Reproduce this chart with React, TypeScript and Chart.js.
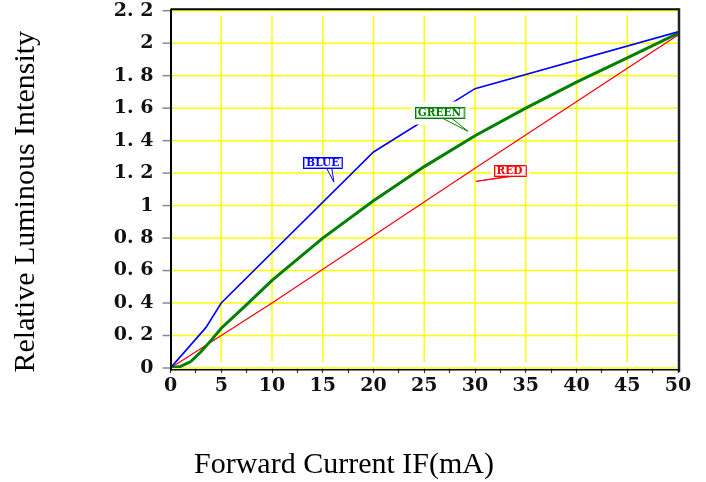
import React, { useEffect, useRef } from 'react';
import { Chart, registerables } from 'chart.js';

Chart.register(...registerables);

// ---- data ----
const blueX = [0, 3.5, 5, 20, 30, 50];
const blueY = [0, 0.25, 0.4, 1.33, 1.72, 2.07];

const greenX = [0, 1, 2, 3, 4, 5, 7.5, 10, 15, 20, 25, 30, 35, 40, 45, 50];
const greenY = [0, 0.01, 0.04, 0.1, 0.17, 0.245, 0.39, 0.54, 0.8, 1.03, 1.24, 1.43, 1.6, 1.76, 1.91, 2.06];

const redX = [0, 5, 10, 30, 50];
const redY = [0, 0.2, 0.4, 1.23, 2.05];

const xTickValues = [0, 2.5, 5, 7.5, 10, 12.5, 15, 17.5, 20, 22.5, 25, 27.5, 30, 32.5, 35, 37.5, 40, 42.5, 45, 47.5, 50];
const xLabelValues = [0, 5, 10, 15, 20, 25, 30, 35, 40, 45, 50];
const xGridValues = [5, 10, 15, 20, 25, 30, 35, 40, 45];
const yTickValues = [0, 0.2, 0.4, 0.6, 0.8, 1, 1.2, 1.4, 1.6, 1.8, 2, 2.2];
const yTickLabels = ['0', '0. 2', '0. 4', '0. 6', '0. 8', '1', '1. 2', '1. 4', '1. 6', '1. 8', '2', '2. 2'];

const xTitle = 'Forward Current IF(mA)';
const yTitle = 'Relative Luminous Intensity';

const seriesNames = ['BLUE', 'GREEN', 'RED'];
const seriesColors = ['#0000ff', '#008000', '#ff0000'];

// callout annotations (data coordinates of box centre and pointer tip)
const calloutBoxX = [15.0, 26.5, 33.4];
const calloutBoxY = [1.266, 1.575, 1.217];
const calloutTipX = [16.1, 29.3, 30.1];
const calloutTipY = [1.145, 1.458, 1.149];

const calloutStyle = [
  { tail: [4, 9], pad: [3, 2], light: 'rgba(120,120,255,0.8)' },
  { tail: [3.5, 12.5], pad: [4.5, 6], light: 'rgba(110,190,110,0.8)' },
  { tail: [-3, 2], pad: [3, 2], light: 'rgba(255,140,140,0.8)' },
];

const gridPlugin = {
  id: 'customGrid',
  beforeDatasetsDraw(chart: any) {
    const { ctx, chartArea, scales } = chart;
    const xs = scales.x;
    const ys = scales.y;
    ctx.save();
    ctx.strokeStyle = '#ffff00';
    ctx.lineWidth = 1.5;
    for (const v of yTickValues) {
      const y = ys.getPixelForValue(v);
      ctx.beginPath();
      ctx.moveTo(chartArea.left + 1, y);
      ctx.lineTo(chartArea.right - 1, y);
      ctx.stroke();
    }
    for (const v of xGridValues) {
      const x = xs.getPixelForValue(v);
      ctx.beginPath();
      ctx.moveTo(x, chartArea.top + 4.5);
      ctx.lineTo(x, chartArea.bottom - 6);
      ctx.stroke();
    }
    // y tick marks (drawn here so the label gap does not pad the chart top)
    ctx.strokeStyle = '#888888';
    ctx.lineWidth = 1.5;
    for (const v of yTickValues) {
      const y = ys.getPixelForValue(v);
      ctx.beginPath();
      ctx.moveTo(chartArea.left - 8, y);
      ctx.lineTo(chartArea.left, y);
      ctx.stroke();
    }
    ctx.restore();
  },
  afterDatasetsDraw(chart: any) {
    const { ctx, scales } = chart;
    const xs = scales.x;
    const ys = scales.y;
    ctx.save();
    seriesNames.forEach((name, i) => {
      const color = seriesColors[i];
      const st = calloutStyle[i];
      const cx = xs.getPixelForValue(calloutBoxX[i]);
      const cy = ys.getPixelForValue(calloutBoxY[i]);
      const tx = xs.getPixelForValue(calloutTipX[i]);
      const ty = ys.getPixelForValue(calloutTipY[i]);
      ctx.font = 'bold 10.5px "DejaVu Serif"';
      const w = ctx.measureText(name).width + 6;
      const h = 11;
      const left = Math.round(cx - w / 2) + 0.5;
      const top = Math.round(cy - h / 2) + 0.5;
      // white clearing background
      ctx.fillStyle = '#ffffff';
      ctx.fillRect(left - st.pad[0], top - st.pad[1], w + 2 * st.pad[0], h + 2 * st.pad[1]);
      // tail
      ctx.beginPath();
      ctx.moveTo(cx + st.tail[0], top + h);
      ctx.lineTo(tx, ty);
      ctx.lineTo(cx + st.tail[1], top + h);
      ctx.closePath();
      ctx.fill();
      ctx.strokeStyle = color;
      ctx.lineWidth = 1;
      ctx.beginPath();
      ctx.moveTo(cx + st.tail[0], top + h);
      ctx.lineTo(tx, ty);
      ctx.lineTo(cx + st.tail[1], top + h);
      ctx.stroke();
      // box
      ctx.fillRect(left, top, w, h);
      ctx.strokeStyle = color;
      ctx.strokeRect(left, top, w, h);
      ctx.strokeStyle = st.light;
      ctx.strokeRect(left + 1, top + 1, w - 2, h - 2);
      // text
      ctx.fillStyle = color;
      ctx.textAlign = 'center';
      ctx.textBaseline = 'middle';
      ctx.fillText(name, cx, top + h / 2 + 0.5);
    });
    ctx.restore();
  },
  afterDraw(chart: any) {
    const { ctx, chartArea } = chart;
    ctx.save();
    // frame
    ctx.strokeStyle = '#000000';
    ctx.lineWidth = 2;
    ctx.beginPath();
    ctx.moveTo(chartArea.left + 0.5, chartArea.top - 1.5);
    ctx.lineTo(chartArea.right + 1, chartArea.top - 1.5);
    ctx.stroke();
    ctx.beginPath();
    ctx.moveTo(chartArea.left + 0.5, chartArea.top - 2);
    ctx.lineTo(chartArea.left + 0.5, chartArea.bottom + 2.5);
    ctx.stroke();
    ctx.lineWidth = 2.5;
    ctx.strokeStyle = '#222222';
    ctx.beginPath();
    ctx.moveTo(chartArea.right + 1, chartArea.top - 2.5);
    ctx.lineTo(chartArea.right + 1, chartArea.bottom + 4);
    ctx.stroke();
    ctx.lineWidth = 1.5;
    ctx.strokeStyle = '#000000';
    ctx.beginPath();
    ctx.moveTo(chartArea.left, chartArea.bottom + 1.8);
    ctx.lineTo(chartArea.right + 1, chartArea.bottom + 1.8);
    ctx.stroke();
    // titles
    ctx.fillStyle = '#000000';
    ctx.font = '30px "Liberation Serif"';
    ctx.textAlign = 'center';
    ctx.textBaseline = 'alphabetic';
    ctx.fillText(xTitle, 344, 473);
    ctx.translate(34, 201.7);
    ctx.rotate(-Math.PI / 2);
    ctx.fillText(yTitle, 0, 0);
    ctx.restore();
  },
};

export default function App() {
  const canvasRef = useRef<HTMLCanvasElement | null>(null);

  useEffect(() => {
    if (!canvasRef.current) return;
    const toPoints = (xs: number[], ys: number[]) => xs.map((x, i) => ({ x, y: ys[i] }));
    const chart = new Chart(canvasRef.current, {
      type: 'line',
      data: {
        datasets: [
          {
            label: seriesNames[0],
            data: toPoints(blueX, blueY),
            borderColor: seriesColors[0],
            borderWidth: 1.6,
            pointRadius: 0,
            tension: 0,
          },
          {
            label: seriesNames[1],
            data: toPoints(greenX, greenY),
            borderColor: seriesColors[1],
            borderWidth: 3,
            pointRadius: 0,
            tension: 0,
          },
          {
            label: seriesNames[2],
            data: toPoints(redX, redY),
            borderColor: seriesColors[2],
            borderWidth: 1.2,
            pointRadius: 0,
            tension: 0,
          },
        ],
      },
      options: {
        animation: false,
        responsive: false,
        maintainAspectRatio: false,
        layout: { padding: { top: 10.7, right: 28, left: 0, bottom: 0 } },
        plugins: {
          legend: { display: false },
          tooltip: { enabled: false },
          title: { display: false },
        },
        scales: {
          x: {
            type: 'linear',
            min: 0,
            max: 50,
            afterBuildTicks: (s: any) => {
              s.ticks = xTickValues.map((v) => ({ value: v }));
            },
            afterFit: (s: any) => {
              s.height = 114;
            },
            ticks: {
              autoSkip: false,
              maxRotation: 0,
              padding: 4,
              color: '#111111',
              font: { family: 'DejaVu Serif', weight: 'bold', size: 19, lineHeight: 1 },
              callback: (v: any) => (xLabelValues.includes(Number(v)) ? String(v) : ''),
            },
            grid: {
              drawOnChartArea: false,
              tickLength: 5,
              tickColor: '#333333',
              tickWidth: 1.2,
            },
            border: { display: false },
          },
          y: {
            type: 'linear',
            min: 0,
            max: 2.2,
            afterBuildTicks: (s: any) => {
              s.ticks = yTickValues.map((v) => ({ value: v }));
            },
            afterFit: (s: any) => {
              s.width = 170.5;
            },
            ticks: {
              autoSkip: false,
              padding: 0,
              color: '#111111',
              font: { family: 'DejaVu Serif', weight: 'bold', size: 19, lineHeight: 1 },
              callback: (_v: any, i: number) => yTickLabels[i],
            },
            grid: {
              drawOnChartArea: false,
              tickLength: 17,
              tickColor: 'rgba(0,0,0,0)',
              tickWidth: 1,
            },
            border: { display: false },
          },
        },
      },
      plugins: [gridPlugin],
    });
    return () => chart.destroy();
  }, []);

  return (
    <div style={{ position: 'absolute', left: 0, top: 0, width: 706, height: 482, background: '#ffffff' }}>
      <canvas ref={canvasRef} width={706} height={482} style={{ width: 706, height: 482 }} />
    </div>
  );
}
